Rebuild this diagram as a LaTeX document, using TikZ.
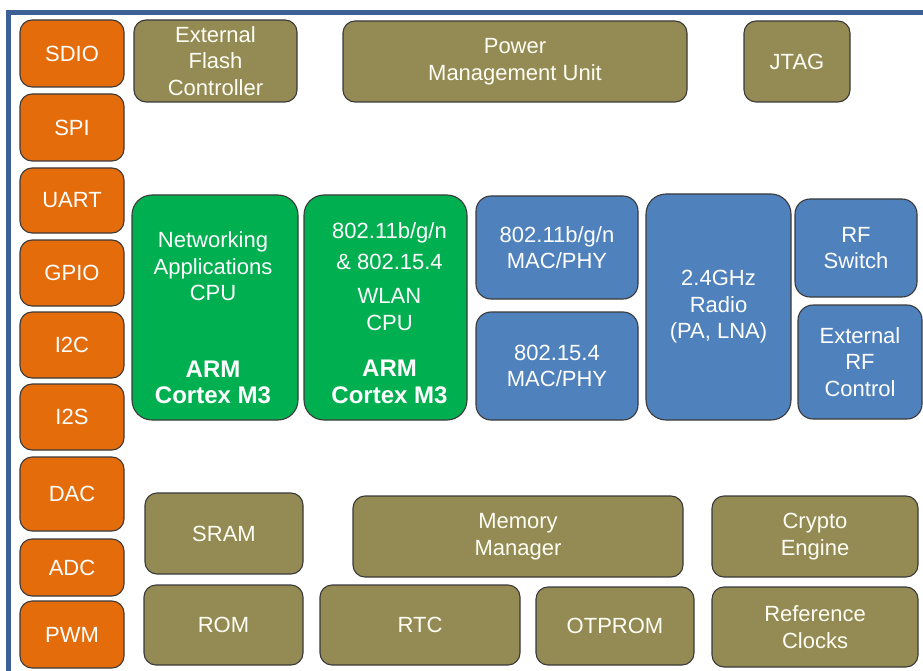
\documentclass[tikz,border=0pt]{standalone}
\usepackage{fontspec}
\setmainfont{Liberation Sans}
\usepackage{xcolor}
\usepackage{tikz}
\usetikzlibrary{positioning}

\definecolor{portorange}{HTML}{E46C0A}
\definecolor{blockolive}{HTML}{948A54}
\definecolor{cpugreen}{HTML}{00B050}
\definecolor{rfblue}{HTML}{4F81BD}
\definecolor{framblue}{HTML}{3C5F96}
\definecolor{edgegray}{HTML}{3A3A3A}

\tikzset{
  blk/.style={draw=edgegray, line width=1.1pt, rounded corners=12pt, text=white,
    align=center, inner sep=2pt, font=\fontsize{22}{26.5}\selectfont},
  port/.style={blk, fill=portorange, minimum width=104pt},
  ctrl/.style={blk, fill=blockolive, text=white!96!yellow},
  cpu/.style={blk, fill=cpugreen, rounded corners=20pt},
  rf/.style={blk, fill=rfblue, rounded corners=15pt},
  cputext/.style={text=white, align=center, inner sep=0pt, font=\fontsize{22}{26.5}\selectfont},
}

\begin{document}
\begin{tikzpicture}[x=1pt, y=-1pt]
    \useasboundingbox (0,0) rectangle (923,671);
    \draw[framblue, line width=4.5pt] (8.5,671) -- (8.5,12.5) -- (923,12.5);

    % interface column
    \foreach \name/\lbl/\yc/\hgt in {sdio/SDIO/53.5/67, spi/SPI/127.5/67, uart/UART/200.5/65,
        gpio/GPIO/273/66, itc/I2C/345/66, its/I2S/417/66, dac/DAC/494/74,
        adc/ADC/567.5/57, pwm/PWM/634.5/67}
      \node[port, minimum height=\hgt] (\name) at (72,\yc) {\lbl};

    % top row
    \node[ctrl, minimum width=163pt, minimum height=82pt] (flash) at (215.5,61)
      {External\\Flash\\Controller};
    \node[ctrl, minimum width=344pt, minimum height=81pt] (pmu) at (515,61.5)
      {Power\\Management Unit};
    \node[ctrl, minimum width=106pt, minimum height=81pt] (jtag) at (797,61.5) {JTAG};

    % processors
    \node[cpu, minimum width=166pt, minimum height=225pt] (appcpu) at (215,307.5) {};
    \node[cpu, minimum width=163pt, minimum height=225pt] (wlancpu) at (385.5,307.5) {};
    \node[cputext] (appcpu-t) at ([xshift=-2pt, yshift=-10.5pt]appcpu.center)
      {Networking\\Applications\\CPU\\[50pt]\fontsize{24}{26.5}\selectfont\bfseries ARM\\
       \fontsize{24}{26.5}\selectfont\bfseries Cortex M3};
    \node[cputext] (wlancpu-t) at ([xshift=4pt, yshift=-5.5pt]wlancpu.center)
      {802.11b/g/n\\[4pt]\& 802.15.4\\[8pt]WLAN\\CPU\\[20pt]\fontsize{24}{26.5}\selectfont\bfseries ARM\\
       \fontsize{24}{26.5}\selectfont\bfseries Cortex M3};

    % radio blocks
    \node[rf, minimum width=162pt, minimum height=103pt] (wmac) at (557,247.5)
      {802.11b/g/n\\MAC/PHY};
    \node[rf, minimum width=162pt, minimum height=108pt] (zmac) at (557,366)
      {802.15.4\\MAC/PHY};
    \node[rf, minimum width=145pt, minimum height=226pt, rounded corners=20pt] (radio) at (718.5,307)
      {2.4GHz\\Radio\\(PA, LNA)};
    \node[rf, minimum width=122pt, minimum height=98pt] (rfsw) at (856,248)
      {RF\\Switch};
    \node[rf, minimum width=124pt, minimum height=114pt] (extrf) at (860,362)
      {External\\RF\\Control};

    % memories and services
    \node[ctrl, minimum width=158pt, minimum height=81pt] (sram) at (224,533.5) {SRAM};
    \node[ctrl, minimum width=330pt, minimum height=81pt] (memmgr) at (518,536.5)
      {Memory\\Manager};
    \node[ctrl, minimum width=206pt, minimum height=81pt] (crypto) at (815,536.5)
      {Crypto\\Engine};
    \node[ctrl, minimum width=159pt, minimum height=80pt] (rom) at (223.5,625) {ROM};
    \node[ctrl, minimum width=200pt, minimum height=80pt] (rtc) at (420,625) {RTC};
    \node[ctrl, minimum width=158pt, minimum height=78pt] (otprom) at (615,626) {OTPROM};
    \node[ctrl, minimum width=206pt, minimum height=80pt] (refclk) at (815,627)
      {Reference\\Clocks};
\end{tikzpicture}
\end{document}
